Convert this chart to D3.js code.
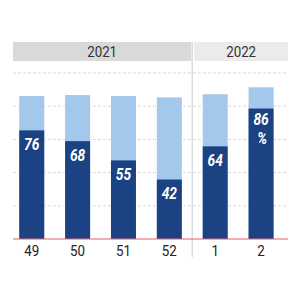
<!DOCTYPE html>
<html>
<head>
<meta charset="utf-8">
<script src="https://cdn.jsdelivr.net/npm/d3@7"></script>
<style>
  body { margin: 0; background: #fff; }
  svg { display: block; font-family: Roboto, "Liberation Sans", sans-serif; }
</style>
</head>
<body>
<div id="chart"></div>
<script>
// data
const weeks = ['49', '50', '51', '52', '1', '2'];
const years = ['2021', '2021', '2021', '2021', '2022', '2022'];
const totals = [86.1, 86.7, 86.1, 85.3, 87.2, 91.4];
const shares = [76, 68, 55, 42, 64, 86];
const yTicks = [20, 40, 60, 80, 100];

const W = 300, H = 300;
const narrow = 0.86; // fake condensed text
const svg = d3.select('#chart').append('svg')
  .attr('width', W).attr('height', H);

const x = d3.scaleBand()
  .domain(weeks)
  .range([8.8, 284])
  .paddingInner(0.455)
  .paddingOuter(0.2275);

const y = d3.scaleLinear().domain([0, 100]).range([239, 73]);

const left = 13, right = 288;

// grid
svg.append('g').selectAll('line')
  .data(yTicks)
  .enter().append('line')
  .attr('x1', left).attr('x2', right)
  .attr('y1', d => y(d)).attr('y2', d => y(d))
  .attr('stroke', '#d9d9d9')
  .attr('stroke-dasharray', '3,2');

// year headers
const yearGroups = d3.groups(weeks.map((w, i) => ({w, yr: years[i]})), d => d.yr);
const sepX = (x('52') + x.bandwidth() + x('1')) / 2;
const headerBounds = {
  '2021': [left, sepX - 1],
  '2022': [sepX + 2, right]
};
const headerFill = {'2021': '#d9d9d9', '2022': '#ebebeb'};

yearGroups.forEach(([yr]) => {
  const [a, b] = headerBounds[yr];
  svg.append('rect')
    .attr('x', a).attr('y', 42)
    .attr('width', b - a).attr('height', 19)
    .attr('fill', headerFill[yr]);
  svg.append('text')
    .attr('transform', `translate(${(a + b) / 2},57) scale(${narrow},1)`)
    .attr('text-anchor', 'middle')
    .attr('font-size', 15.5)
    .attr('fill', '#333')
    .text(yr);
});

// separator
svg.append('line')
  .attr('x1', sepX).attr('x2', sepX)
  .attr('y1', 42).attr('y2', 257)
  .attr('stroke', '#dcdcdc')
  .attr('stroke-width', 1.5);

const data = weeks.map((w, i) => ({w, total: totals[i], share: shares[i]}));

// total bars
svg.append('g').selectAll('rect')
  .data(data)
  .enter().append('rect')
  .attr('x', d => x(d.w))
  .attr('width', x.bandwidth())
  .attr('y', d => y(d.total))
  .attr('height', d => y(0) - y(d.total))
  .attr('fill', '#a3c8eb');

// share bars
svg.append('g').selectAll('rect')
  .data(data)
  .enter().append('rect')
  .attr('x', d => x(d.w))
  .attr('width', x.bandwidth())
  .attr('y', d => y(d.total * d.share / 100))
  .attr('height', d => y(0) - y(d.total * d.share / 100))
  .attr('fill', '#1b4282');

// labels
const lbl = svg.append('g')
  .attr('font-weight', 'bold')
  .attr('font-style', 'italic')
  .attr('font-size', 16)
  .attr('fill', '#fff')
  .attr('text-anchor', 'middle');

data.forEach((d, i) => {
  const top = y(d.total * d.share / 100);
  const cx = x(d.w) + x.bandwidth() / 2;
  const wrap = i === data.length - 1;
  lbl.append('text')
    .attr('transform', `translate(${cx},${top + (wrap ? 16 : 19.5)}) scale(${narrow},1)`)
    .text(d.share);
  if (wrap) {
    lbl.append('text')
      .attr('transform', `translate(${cx + 1},${top + 35}) scale(${narrow},1)`)
      .text('%');
  }
});

// baseline
svg.append('line')
  .attr('x1', left).attr('x2', right)
  .attr('y1', y(0)).attr('y2', y(0))
  .attr('stroke', '#e0616f')
  .attr('stroke-width', 1);

// x axis labels
svg.append('g')
  .attr('transform', `translate(0,${y(0)})`)
  .call(d3.axisBottom(x).tickSize(0).tickPadding(6))
  .call(g => g.select('.domain').remove())
  .call(g => g.selectAll('text')
    .attr('font-size', 15.5)
    .attr('font-family', 'Roboto, sans-serif')
    .attr('fill', '#222')
    .attr('transform', `scale(${narrow},1)`)
    .attr('x', 0));
</script>
</body>
</html>
